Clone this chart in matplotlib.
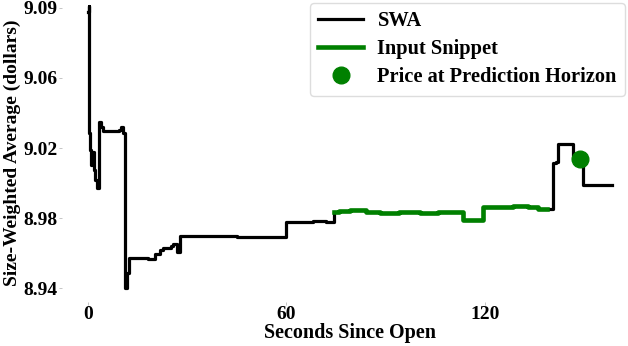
import numpy as np
import matplotlib
import matplotlib.pyplot as plt

matplotlib.use('Agg')

# Tempi (secondi dall'apertura) e valori SWA
tempi = [0.0, 0.15, 0.4, 0.7, 1.0, 1.3, 1.7, 2.2, 2.8, 3.4, 4.0, 4.6, 9.2, 10.1,
         10.5, 11.1, 11.9, 12.3, 18.0, 20.3, 21.9, 22.8, 25.2, 25.8, 27.0, 27.9,
         40.0, 45.0, 52.0, 60.0, 64.0, 68.0, 72.0, 74.5, 76.0, 79.3, 84.0, 88.4,
         94.0, 100.5, 106.0, 113.5, 119.5, 124.0, 128.6, 133.0, 136.0, 138.9,
         140.7, 141.6, 142.2, 146.7, 149.7, 153.0, 158.5]
swa = [9.0918, 9.0951, 9.0239, 9.0144, 9.0060, 9.0130, 9.0032, 8.9976, 8.9931,
       9.0301, 9.0273, 9.0250, 9.0256, 9.0273, 9.0239, 8.9370, 8.9454, 8.9538,
       8.9533, 8.9560, 8.9583, 8.9594, 8.9605, 8.9617, 8.9572, 8.9662, 8.9662,
       8.9659, 8.9656, 8.9740, 8.9743, 8.9746, 8.9743, 8.9796, 8.9802, 8.9805,
       8.9796, 8.9791, 8.9796, 8.9793, 8.9796, 8.9751, 8.9824, 8.9827, 8.9832,
       8.9824, 8.9813, 8.9813, 9.0071, 9.0077, 9.0177, 9.0093, 8.9948, 8.9945,
       8.9948]

# Finestra dello snippet di input
inizio_snippet = 74.5
fine_snippet = 138.9

# Prezzo all'orizzonte di previsione
t_orizzonte = 148.8
prezzo_orizzonte = 9.0093

xticks = [0, 60, 120]
ytick_labels = ['8.94', '8.98', '9.02', '9.06', '9.09']

plt.rcParams['font.family'] = ['Liberation Serif', 'DejaVu Serif']
plt.rcParams['font.weight'] = 'bold'

fig = plt.figure(figsize=(6.28, 3.46), dpi=100)
ax = fig.add_axes([62 / 628, 44 / 346, 576 / 628, 311 / 346])

t = np.array(tempi)
v = np.array(swa)
ax.plot(t, v, color='black', lw=2.3, drawstyle='steps-post', label='SWA')

mask = (t >= inizio_snippet) & (t <= fine_snippet)
ax.plot(t[mask], v[mask], color='green', lw=3.3, drawstyle='steps-post',
        label='Input Snippet')

ax.plot([t_orizzonte], [prezzo_orizzonte], 'o', color='green', markersize=12,
        label='Price at Prediction Horizon', zorder=5)

ax.set_xlim(-7.9, 166.4)
ax.set_ylim(8.9292, 9.1035)
ax.set_xticks(xticks)
ax.set_yticks(np.linspace(8.937, 9.094, len(ytick_labels)))
ax.set_yticklabels(ytick_labels)

for s in ax.spines.values():
    s.set_visible(False)
ax.tick_params(axis='both', length=2, width=0.6, color='#bbbbbb',
               labelsize=14, pad=1)

ax.set_xlabel('Seconds Since Open', fontsize=14.5, fontweight='bold')
ax.set_ylabel('Size-Weighted Average (dollars)', fontsize=14, fontweight='bold')
ax.xaxis.set_label_coords(0.5, -0.068)
ax.yaxis.set_label_coords(-0.072, 0.48)

leg = ax.legend(loc='upper right', bbox_to_anchor=(625 / 628, 1 - 3 / 346),
                bbox_transform=fig.transFigure, borderaxespad=0, fontsize=14.7,
                numpoints=1, handlelength=2.2, handletextpad=0.7,
                labelspacing=0.4, framealpha=1)
leg.get_frame().set_edgecolor('#dddddd')

plt.savefig('out.png', dpi=100)
plt.close()
